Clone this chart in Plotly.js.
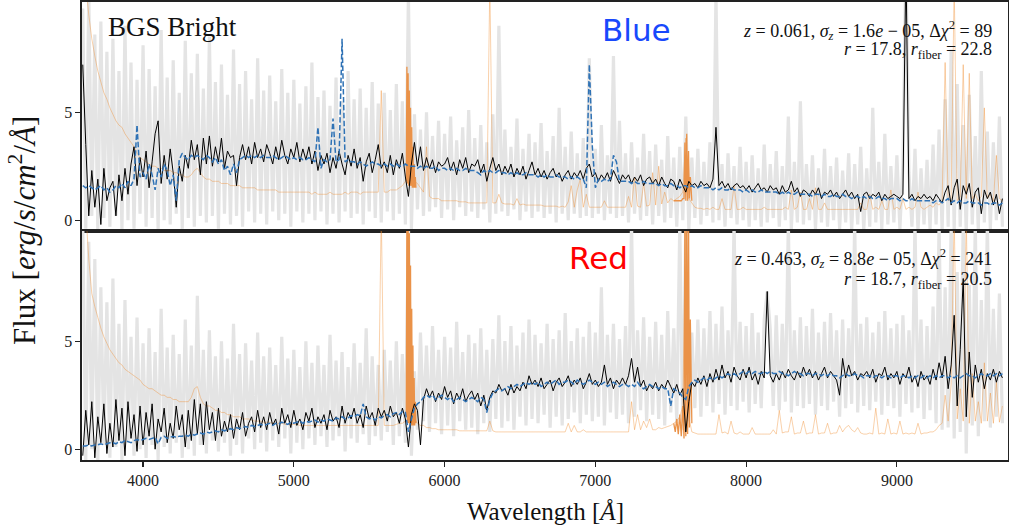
<!DOCTYPE html>
<html><head><meta charset="utf-8">
<script src="https://cdn.plot.ly/plotly-3.0.1.min.js"></script>
<style>html,body{margin:0;padding:0;background:#fff}#chart{width:1009px;height:531px}</style>
</head><body><div id="chart"></div>
<script>
// ---- wavelength grid (Angstrom) of the binned spectra ----
const WAVE_START = 3600;
const WAVE_STEP = 20;

// ---- TOP PANEL (z = 0.061) ----
const topGray = [
/*3600*/ 9.8,-0.4,10.5,0.2,8.6,-0.5,9.2,0.1,7.8,-0.3,
/*3800*/ 8.4,0.2,6.9,-0.5,9.0,0.0,7.3,-0.4,6.5,0.3,
/*4000*/ 8.1,-0.3,7.0,0.1,6.2,-0.5,8.8,0.0,6.6,-0.2,
/*4200*/ 7.4,0.3,5.9,-0.4,8.3,0.1,6.8,-0.3,7.7,0.2,
/*4400*/ 6.1,-0.1,8.5,0.2,6.4,-0.4,7.2,0.3,5.8,-0.2,
/*4600*/ 7.9,0.2,6.3,-0.3,6.9,0.4,5.6,-0.1,7.5,0.3,
/*4800*/ 6.0,-0.2,6.7,0.4,5.5,0.0,7.0,0.3,5.9,-0.3,
/*5000*/ 6.5,0.4,5.4,-0.1,6.2,0.3,7.3,0.0,5.7,0.4,
/*5200*/ 6.0,-0.2,5.3,0.3,6.6,-0.1,5.5,0.4,6.9,0.1,
/*5400*/ 5.6,0.3,6.1,-0.2,5.2,0.4,6.4,0.1,5.4,-0.1,
/*5600*/ 5.9,0.4,5.1,0.0,6.3,0.3,5.5,-0.2,10.5,-0.4,
/*5800*/ 4.9,0.5,4.2,0.2,5.0,0.4,3.9,0.6,4.6,0.1,
/*6000*/ 4.0,0.5,4.8,0.0,3.7,0.6,4.3,0.2,5.1,0.4,
/*6200*/ 3.8,0.1,4.4,0.5,3.6,-0.1,4.9,0.3,9.0,0.4,
/*6400*/ 4.2,0.2,3.4,0.5,4.7,0.0,3.3,0.4,4.0,0.1,
/*6600*/ 3.6,0.4,4.5,0.1,3.2,0.3,3.9,-0.1,5.2,0.3,
/*6800*/ 3.4,0.0,4.1,0.3,3.1,0.1,3.8,0.2,7.5,0.1,
/*7000*/ 3.3,0.3,4.4,0.0,3.0,0.3,7.6,0.1,4.6,0.2,
/*7200*/ 3.1,-0.1,3.6,0.3,2.9,0.0,4.0,0.2,3.2,-0.2,
/*7400*/ 3.5,0.2,2.8,-0.1,3.9,0.1,2.9,-0.3,3.4,0.0,
/*7600*/ 4.8,-0.4,2.9,0.1,3.3,-0.2,2.7,0.2,3.6,-0.1,
/*7800*/ 10.5,0.0,2.6,-0.3,3.1,0.1,2.5,-0.2,3.4,0.0,
/*8000*/ 2.7,-0.3,3.0,0.0,2.4,-0.3,3.5,-0.1,2.6,0.1,
/*8200*/ 3.2,-0.3,2.5,0.0,4.8,-0.4,2.7,-0.1,5.5,-0.2,
/*8400*/ 2.6,0.0,3.0,-0.4,2.4,-0.1,3.3,-0.3,2.5,0.0,
/*8600*/ 2.9,-0.4,2.3,-0.1,3.1,-0.5,2.6,-0.2,3.4,-0.5,
/*8800*/ 2.4,-0.3,5.2,-0.1,2.7,-0.4,4.0,-0.2,2.5,-0.1,
/*9000*/ 3.0,-0.4,2.6,12,2.2,-0.3,3.3,-0.5,2.4,-0.2,
/*9200*/ 2.8,-0.4,3.5,-0.2,4.2,-0.5,5.6,-0.3,7.9,-0.5,
/*9400*/ 6.3,-0.3,4.4,-0.6,5.8,-0.2,3.9,-0.5,6.9,-0.1,
/*9600*/ 4.1,-0.4,3.6,0.0,4.8,-0.3
];
const topNoise = [
/*3600*/ 13,11,9.5,8.4,7.6,6.9,6.4,5.9,5.6,5.2,
/*3800*/ 4.9,4.6,4.4,4.3,4.0,3.8,3.6,3.4,3.1,2.9,
/*4000*/ 2.8,2.7,2.6,2.5,2.5,2.4,2.4,2.3,2.3,2.3,
/*4200*/ 2.2,2.2,2.1,2.1,2.0,2.0,2.1,2.3,2.4,2.2,
/*4400*/ 2.0,1.9,1.9,1.8,1.8,1.8,1.7,1.7,1.7,1.6,
/*4600*/ 1.6,1.6,1.6,1.5,1.5,1.5,1.5,1.5,1.4,1.4,
/*4800*/ 1.4,1.4,1.4,1.4,1.4,1.3,1.3,1.3,1.3,1.3,
/*5000*/ 1.3,1.3,1.3,1.3,1.3,1.3,1.2,1.3,1.2,1.2,
/*5200*/ 1.2,1.2,1.3,1.2,1.2,1.2,1.2,1.3,1.2,1.3,
/*5400*/ 1.3,1.3,1.2,1.3,1.3,1.3,1.3,1.3,1.3,6.0,
/*5600*/ 1.3,1.3,1.4,1.4,1.4,1.5,1.6,1.8,1.7,1.6,
/*5800*/ 1.8,1.7,1.5,1.3,3.4,1.1,1.0,1.0,1.0,0.9,
/*6000*/ 0.9,0.9,0.9,0.9,0.9,0.85,0.85,0.85,0.8,0.8,
/*6200*/ 0.8,0.8,0.8,0.8,0.8,11,0.8,0.8,1.2,0.8,
/*6400*/ 0.75,0.75,0.75,0.7,1.0,0.7,0.75,0.7,0.7,0.7,
/*6600*/ 0.7,0.7,0.7,0.65,0.65,0.65,0.65,0.65,0.6,0.65,
/*6800*/ 0.6,0.85,1.6,0.6,1.4,1.9,0.6,1.2,0.6,0.6,
/*7000*/ 0.6,0.6,0.6,0.9,0.6,0.6,0.6,0.6,0.6,0.6,
/*7200*/ 0.6,1.1,0.6,2.0,0.65,0.6,1.7,0.65,0.7,2.2,
/*7400*/ 0.7,2.5,0.75,1.3,0.8,1.0,0.9,1.0,1.1,1.3,
/*7600*/ 3.8,1.0,0.8,0.6,0.55,0.55,0.5,0.55,0.5,0.6,
/*7800*/ 0.5,0.5,1.0,0.5,0.5,0.5,1.6,0.5,0.5,0.6,
/*8000*/ 0.5,0.5,0.5,0.5,0.5,0.5,0.6,0.5,0.5,0.5,
/*8200*/ 0.5,0.5,0.5,0.6,0.5,1.4,0.5,0.6,1.3,0.5,
/*8400*/ 0.5,1.0,0.5,1.5,0.5,0.5,0.8,0.5,0.5,0.5,
/*8600*/ 0.5,0.5,0.5,0.5,0.5,0.5,0.5,0.5,0.8,0.5,
/*8800*/ 0.5,1.2,0.5,0.6,0.5,0.9,0.5,0.5,1.4,0.5,
/*9000*/ 0.6,0.5,1.0,0.5,0.6,0.5,0.6,1.3,0.6,0.5,
/*9200*/ 0.6,0.7,0.6,0.8,0.7,0.9,7.3,0.9,1.0,11,
/*9400*/ 0.9,1.1,7.2,1.0,6.8,1.0,1.2,0.9,1.1,5.2,
/*9600*/ 1.0,1.2,0.9,3.0,1.0,0.9
];
const topFlux = [
/*3600*/ 7.2,3.5,0.2,2.3,0.6,1.9,-0.2,2.4,0.9,1.5,
/*3800*/ 1.8,0.2,2.1,0.9,2.4,1.2,2.6,3.4,1.6,2.9,
/*4000*/ 2.0,3.2,1.5,2.7,4.0,4.6,1.7,3.0,1.9,3.3,
/*4200*/ 2.2,0.6,2.5,1.8,3.0,2.4,3.7,2.8,3.5,2.1,
/*4400*/ 3.8,2.6,3.9,2.5,3.4,2.7,3.8,2.4,3.2,2.9,
/*4600*/ 3.0,1.6,2.9,3.5,2.8,3.4,2.6,3.6,2.9,3.3,
/*4800*/ 2.7,3.5,3.1,2.6,3.4,2.8,3.7,3.0,2.6,3.3,
/*5000*/ 2.9,3.6,2.7,3.3,2.8,3.4,2.6,3.2,2.3,3.0,
/*5200*/ 2.6,3.1,2.2,2.9,2.4,3.2,2.6,2.1,3.0,2.5,
/*5400*/ 3.3,2.4,2.9,1.8,2.7,3.1,2.2,2.8,3.5,2.4,
/*5600*/ 2.7,2.2,3.0,2.1,2.8,2.4,3.1,2.0,1.1,2.6,
/*5800*/ 3.6,2.5,3.4,2.3,2.9,2.4,2.8,2.2,2.7,2.5,
/*6000*/ 2.6,2.9,2.3,2.7,2.1,2.8,2.4,2.9,2.2,2.6,
/*6200*/ 2.5,2.8,2.2,2.6,1.8,2.4,2.9,2.3,2.6,2.1,
/*6400*/ 2.5,2.2,2.6,2.0,2.4,2.1,2.5,1.9,2.3,2.7,
/*6600*/ 2.1,2.4,2.0,2.3,1.9,2.2,2.4,2.0,2.2,1.8,
/*6800*/ 2.1,2.3,1.9,2.2,2.0,2.3,1.9,2.4,2.6,2.0,
/*7000*/ 2.2,1.8,2.1,1.9,2.2,1.8,2.3,2.0,1.7,2.1,
/*7200*/ 1.9,2.1,1.7,2.0,1.8,2.1,1.6,1.9,2.0,1.7,
/*7400*/ 1.9,1.6,2.0,1.7,1.5,1.9,1.8,1.4,1.9,1.6,
/*7600*/ 1.3,1.8,1.6,1.7,1.5,1.8,1.6,1.7,1.5,1.9,
/*7800*/ 4.3,1.6,1.8,1.5,1.7,1.4,1.6,1.7,1.5,1.6,
/*8000*/ 1.4,1.6,1.3,1.5,1.7,1.4,1.5,1.3,1.6,1.4,
/*8200*/ 1.5,1.2,1.6,1.3,1.4,1.8,1.3,1.5,1.1,1.4,
/*8400*/ 1.3,1.1,1.4,1.2,1.5,1.0,1.3,1.2,1.4,1.1,
/*8600*/ 1.3,1.0,1.2,1.4,1.1,1.3,1.0,1.2,0.4,1.2,
/*8800*/ 1.3,1.0,1.2,1.1,1.3,0.9,1.2,1.0,1.1,1.2,
/*9000*/ 1.1,1.0,1.2,12.0,1.0,1.2,0.9,1.1,1.0,1.2,
/*9200*/ 1.0,1.1,0.9,1.2,1.0,0.8,1.3,1.6,0.7,1.5,
/*9400*/ 1.9,0.5,1.6,1.2,1.7,0.6,1.3,1.5,0.3,1.4,
/*9600*/ 1.0,1.3,0.7,1.2,0.3,1.0
];
const topModel = [
/*3600*/ 1.6,1.5,1.6,1.5,1.4,1.5,1.6,1.4,1.5,1.3,
/*3800*/ 1.4,1.6,1.5,1.7,1.5,1.8,1.6,1.9,4.4,2.0,
/*4000*/ 2.2,1.9,2.6,2.1,1.4,2.4,2.0,2.6,2.3,1.6,
/*4200*/ 2.1,0.9,2.8,3.1,2.9,2.8,3.0,2.9,3.0,2.9,
/*4400*/ 2.8,3.0,2.9,2.7,2.9,2.6,2.8,2.3,2.5,2.1,
/*4600*/ 2.6,2.2,2.8,2.9,3.0,2.9,3.0,2.9,3.0,2.9,
/*4800*/ 3.0,2.9,2.9,3.0,2.9,2.8,2.9,3.0,2.9,2.8,
/*5000*/ 2.9,2.8,2.9,2.8,2.8,2.9,2.8,2.7,4.3,2.4,
/*5200*/ 2.8,2.7,2.8,4.7,2.7,2.8,8.4,2.7,2.8,2.7,
/*5400*/ 2.7,2.6,2.7,2.6,2.5,2.6,2.7,2.6,2.6,2.5,
/*5600*/ 2.6,2.5,2.6,2.5,2.6,2.5,2.5,2.6,2.5,2.5,
/*5800*/ 2.5,2.4,2.5,2.4,2.5,2.4,2.4,2.5,2.3,2.4,
/*6000*/ 2.4,2.3,2.4,2.3,2.4,2.3,2.3,2.4,2.3,2.3,
/*6200*/ 2.3,2.2,2.1,2.3,2.2,2.3,2.2,2.2,2.3,2.2,
/*6400*/ 2.2,2.1,2.2,2.1,2.2,2.1,2.1,2.2,2.1,2.1,
/*6600*/ 2.1,2.0,2.1,2.0,2.1,2.0,2.0,2.1,2.0,2.0,
/*6800*/ 2.0,1.9,2.0,1.9,2.0,1.9,1.9,1.5,7.2,3.4,
/*7000*/ 1.5,1.9,1.8,1.9,1.8,1.9,3.0,2.7,1.8,1.8,
/*7200*/ 1.8,1.8,1.7,1.8,1.7,1.7,1.8,1.7,1.7,1.7,
/*7400*/ 1.7,1.6,1.7,1.6,1.6,1.7,1.6,1.6,1.5,1.6,
/*7600*/ 1.6,1.5,1.6,1.5,1.5,1.6,1.5,1.5,1.5,1.4,
/*7800*/ 1.5,1.4,1.5,1.4,1.4,1.5,1.4,1.4,1.4,1.3,
/*8000*/ 1.4,1.3,1.4,1.3,1.3,1.4,1.3,1.3,1.3,1.3,
/*8200*/ 1.3,1.2,1.3,1.2,1.3,1.2,1.2,1.3,1.2,1.2,
/*8400*/ 1.2,1.2,1.1,1.2,1.2,1.1,1.2,1.1,1.1,1.2,
/*8600*/ 1.1,1.1,1.2,1.1,1.1,1.0,1.1,1.1,1.0,1.1,
/*8800*/ 1.0,1.1,1.0,1.0,1.1,1.0,1.0,0.9,1.0,1.0,
/*9000*/ 1.0,0.9,1.0,0.9,0.9,1.0,0.9,0.9,0.9,0.9,
/*9200*/ 0.9,0.9,0.8,0.9,0.9,0.8,0.9,1.0,0.8,0.9,
/*9400*/ 0.8,0.9,0.8,0.8,0.9,0.8,0.8,0.8,0.7,0.8,
/*9600*/ 0.8,0.7,0.8,0.8,0.7,0.8
];

// ---- BOTTOM PANEL (z = 0.463) ----
const botGray = [
/*3600*/ 10.5,-0.5,9.6,0.0,8.8,-0.6,7.5,0.2,6.8,-0.4,
/*3800*/ 7.9,0.1,5.8,-0.5,6.9,0.3,5.2,-0.3,6.1,0.0,
/*4000*/ 4.9,-0.4,5.6,0.2,4.5,-0.5,6.5,0.1,4.7,-0.2,
/*4200*/ 5.3,0.3,4.4,-0.4,6.0,0.0,4.8,-0.3,7.1,0.2,
/*4400*/ 4.6,-0.2,5.5,0.4,4.3,-0.1,5.0,0.3,4.2,-0.3,
/*4600*/ 5.8,0.2,4.4,-0.2,4.9,0.5,4.1,0.0,5.4,0.3,
/*4800*/ 4.3,-0.1,4.7,0.4,3.9,0.1,5.2,0.5,4.2,-0.2,
/*5000*/ 4.6,0.3,3.8,0.0,5.0,0.5,4.0,0.2,4.8,0.6,
/*5200*/ 3.9,0.1,5.3,0.4,4.1,0.6,4.5,-0.1,3.8,0.5,
/*5400*/ 4.9,0.3,4.0,0.7,5.6,0.2,4.3,0.6,3.9,0.4,
/*5600*/ 4.6,0.8,4.1,0.2,5.0,0.6,4.4,0.3,10.5,-0.3,
/*5800*/ 3.6,0.9,5.4,1.3,4.8,0.8,5.7,1.2,4.6,0.7,
/*6000*/ 5.2,1.1,4.7,0.6,5.9,1.3,4.5,0.9,5.3,1.0,
/*6200*/ 4.9,0.7,5.6,1.2,4.6,0.8,5.1,1.4,6.2,1.0,
/*6400*/ 5.0,1.3,5.7,0.9,4.8,1.5,5.4,1.1,6.0,1.4,
/*6600*/ 5.3,1.2,4.9,1.6,5.8,1.0,5.1,1.5,5.5,1.1,
/*6800*/ 6.3,1.4,5.0,1.7,5.6,1.2,5.2,1.6,5.9,1.3,
/*7000*/ 5.4,1.5,7.5,1.1,5.3,1.7,5.8,1.4,5.1,1.6,
/*7200*/ 5.7,1.2,10.5,1.5,5.5,1.8,6.1,1.3,5.2,1.6,
/*7400*/ 5.9,1.4,5.3,1.1,6.4,1.7,5.6,1.2,10.5,0.9,
/*7600*/ 10.5,1.3,5.4,1.9,6.0,1.5,5.6,2.0,6.4,1.7,
/*7800*/ 5.8,2.1,6.6,1.6,5.5,2.0,10.5,1.8,5.9,2.2,
/*8000*/ 5.7,1.7,6.3,2.1,5.4,1.9,6.0,7.3,5.6,2.0,
/*8200*/ 6.2,1.8,5.8,2.2,10.5,1.7,5.5,2.0,6.1,1.9,
/*8400*/ 5.7,2.1,6.5,1.6,5.4,2.0,5.9,1.8,6.3,2.2,
/*8600*/ 5.5,1.5,6.0,1.9,5.6,2.1,10.5,1.7,5.8,2.0,
/*8800*/ 6.1,1.8,5.4,2.2,5.9,1.6,6.4,2.0,5.6,1.9,
/*9000*/ 5.8,1.5,6.2,2.1,5.5,1.7,10.5,1.9,6.0,1.4,
/*9200*/ 5.7,1.8,6.6,1.2,10.5,0.9,7.5,1.0,10.5,0.5,
/*9400*/ 8.2,0.8,10.5,-0.2,7.6,1.1,10.5,0.6,6.9,1.3,
/*9600*/ 10.5,1.0,6.5,1.5,7.2,1.2
];
const botNoise = [
/*3600*/ 13,11,8.8,7.2,6.6,6.1,5.6,5.2,4.9,4.6,
/*3800*/ 4.4,4.2,4.0,3.9,3.7,3.6,3.5,3.4,3.3,3.2,
/*4000*/ 3.0,2.9,2.8,2.8,2.7,2.6,2.5,2.5,2.4,2.4,
/*4200*/ 2.3,2.3,2.2,2.2,2.2,2.2,2.4,2.8,2.9,2.4,
/*4400*/ 2.1,2.0,2.0,1.9,1.8,1.8,1.7,1.7,1.6,1.6,
/*4600*/ 1.5,1.5,1.5,1.4,1.4,1.4,1.35,1.3,1.3,1.3,
/*4800*/ 1.25,1.25,1.25,1.2,1.2,1.2,1.2,1.15,1.15,1.15,
/*5000*/ 1.15,1.15,1.1,1.1,1.1,1.1,1.1,1.1,1.1,1.1,
/*5200*/ 1.1,1.1,1.1,1.1,1.1,1.1,1.1,1.1,1.1,1.1,
/*5400*/ 1.1,1.1,1.1,1.1,1.1,1.1,1.1,1.1,1.1,11,
/*5600*/ 1.1,1.1,1.1,1.1,1.15,1.2,1.2,1.3,1.4,1.5,
/*5800*/ 1.4,1.2,1.1,1.1,1.0,1.0,0.95,0.95,0.9,0.9,
/*6000*/ 0.9,0.9,0.9,0.9,0.9,0.85,0.85,0.85,0.85,0.85,
/*6200*/ 0.85,0.85,0.85,0.85,0.85,1.3,0.85,0.8,0.8,0.8,
/*6400*/ 0.8,0.8,0.8,0.8,0.8,0.8,0.8,0.8,0.8,0.8,
/*6600*/ 0.8,0.8,0.8,0.8,0.8,0.8,0.8,0.8,0.8,0.8,
/*6800*/ 0.8,1.2,0.8,1.1,0.8,0.8,0.9,0.8,0.8,0.8,
/*7000*/ 0.8,0.8,0.8,0.8,0.8,0.8,0.8,0.8,0.8,0.8,
/*7200*/ 0.8,0.8,2.2,0.9,1.6,0.9,1.3,1.0,1.4,0.9,
/*7400*/ 0.9,1.0,0.95,1.0,1.05,1.1,1.2,1.3,1.5,2.0,
/*7600*/ 11,1.5,0.8,0.75,0.7,0.7,0.7,0.7,0.7,0.7,
/*7800*/ 0.7,1.6,0.75,0.8,0.7,1.3,0.75,0.7,0.8,0.7,
/*8000*/ 0.7,0.7,1.0,0.7,0.7,0.7,0.7,0.7,0.7,0.9,
/*8200*/ 0.7,1.8,0.75,0.8,0.8,1.5,0.7,0.75,0.75,1.3,
/*8400*/ 0.7,0.75,0.75,1.6,0.7,0.75,0.75,1.2,0.7,0.75,
/*8600*/ 0.75,1.1,0.8,1.0,1.1,0.9,0.8,1.0,0.75,0.7,
/*8800*/ 0.7,0.75,0.7,1.9,0.7,0.75,0.7,1.4,0.7,0.75,
/*9000*/ 0.7,1.3,0.7,0.75,0.7,0.75,0.7,1.2,0.7,0.75,
/*9200*/ 0.75,0.8,0.8,0.9,1.1,1.2,2.5,1.3,3.0,11,
/*9400*/ 1.4,2.8,1.3,11,1.2,3.5,1.3,2.2,1.2,4.0,
/*9600*/ 1.3,2.6,1.2,3.1,1.25,2.0
];
const botFlux = [
/*3600*/ -0.3,1.8,0.2,2.2,-0.4,1.5,0.3,2.1,-0.2,1.2,
/*3800*/ 0.1,2.3,0.4,1.9,-0.3,2.2,0.5,1.6,-0.1,2.0,
/*4000*/ 0.2,1.7,0.6,2.1,0.0,1.4,0.8,1.9,0.3,1.2,
/*4200*/ 0.5,2.0,0.9,1.6,0.1,1.8,0.4,2.3,0.7,2.1,
/*4400*/ 0.2,2.2,0.9,1.7,0.4,1.9,0.6,1.3,0.8,1.6,
/*4600*/ 0.5,1.4,0.9,1.7,0.6,1.2,1.5,0.8,1.8,1.0,
/*4800*/ 1.5,0.9,1.7,1.1,1.4,0.7,1.9,1.2,1.6,1.0,
/*5000*/ 1.8,1.1,1.4,0.9,1.7,1.3,1.9,1.0,1.5,1.2,
/*5200*/ 1.6,0.9,1.8,1.3,1.5,1.0,2.0,1.2,1.7,1.4,
/*5400*/ 1.9,1.2,1.6,1.0,2.0,1.4,1.7,1.1,1.9,1.5,
/*5600*/ 1.8,1.3,2.0,1.5,1.7,1.2,1.9,1.4,0.1,1.6,
/*5800*/ 2.1,1.8,0.2,2.3,2.8,2.4,2.7,2.2,2.6,2.3,
/*6000*/ 2.9,2.4,2.7,2.1,2.6,2.3,2.8,2.2,2.5,2.7,
/*6200*/ 2.3,2.6,2.0,2.5,1.8,2.4,2.7,2.6,3.0,2.7,
/*6400*/ 2.8,2.5,3.0,2.6,2.9,2.7,3.1,2.8,3.4,3.0,
/*6600*/ 3.2,2.9,3.3,2.8,3.0,3.2,2.7,3.1,3.3,2.9,
/*6800*/ 3.1,3.4,2.9,3.2,3.0,3.3,2.8,3.1,3.5,3.0,
/*7000*/ 3.2,2.9,3.1,3.9,3.0,3.3,2.8,3.2,3.0,3.3,
/*7200*/ 3.0,3.4,4.2,3.1,3.8,2.9,3.2,2.7,3.0,2.8,
/*7400*/ 3.1,2.7,3.0,2.8,3.2,2.9,2.6,3.0,2.5,2.8,
/*7600*/ 0.8,2.2,3.1,2.9,3.3,3.0,3.4,2.9,3.5,3.1,
/*7800*/ 3.7,3.2,3.9,3.3,3.6,3.1,3.8,3.4,3.2,3.7,
/*8000*/ 3.3,3.8,3.2,3.5,3.0,3.6,3.3,7.3,3.4,3.1,
/*8200*/ 3.5,3.2,3.6,3.3,3.7,3.4,3.2,3.6,3.3,3.8,
/*8400*/ 3.4,3.7,3.3,3.6,3.2,3.5,3.8,3.3,3.6,3.4,
/*8600*/ 3.2,2.5,4.2,3.3,3.9,3.4,3.6,3.2,3.5,3.4,
/*8800*/ 3.6,3.3,3.7,3.1,3.5,3.4,3.8,3.2,3.5,3.3,
/*9000*/ 3.6,3.0,3.5,3.3,3.8,3.1,3.4,2.9,3.6,3.2,
/*9200*/ 3.4,3.0,3.7,3.2,4.0,3.3,4.3,2.8,3.9,6.2,
/*9400*/ 2.0,4.6,7.9,1.5,4.5,2.4,3.9,3.1,3.7,2.8,
/*9600*/ 3.5,3.2,3.7,3.1,3.6,3.3
];
const botModel = [
/*3600*/ 0.15,0.15,0.2,0.15,0.2,0.2,0.25,0.2,0.25,0.3,
/*3800*/ 0.3,0.25,0.35,0.3,0.4,0.35,0.3,0.4,0.45,0.4,
/*4000*/ 0.45,0.5,0.45,0.5,0.55,0.25,0.55,0.6,0.5,0.55,
/*4200*/ 0.6,0.55,0.6,0.6,0.65,0.6,0.7,0.65,0.7,0.75,
/*4400*/ 0.7,0.8,0.75,0.8,0.85,0.8,0.9,0.85,0.9,0.95,
/*4600*/ 0.9,1.0,0.95,1.0,1.05,1.0,1.1,1.05,1.1,1.15,
/*4800*/ 1.1,1.15,1.2,1.1,1.2,1.15,1.25,1.2,1.15,1.25,
/*5000*/ 1.2,1.25,1.3,1.2,1.3,1.25,1.3,1.35,1.25,1.35,
/*5200*/ 1.3,1.4,1.35,1.3,1.45,1.4,1.5,1.4,1.45,1.55,
/*5400*/ 1.5,1.6,1.55,2.1,1.5,1.4,1.45,1.35,1.5,1.45,
/*5600*/ 1.55,1.6,1.5,1.65,1.7,1.6,1.75,1.7,0.8,1.4,
/*5800*/ 1.9,2.1,2.2,2.4,2.5,2.4,2.5,2.3,2.4,2.5,
/*6000*/ 2.4,2.3,2.4,2.2,2.3,2.4,2.3,2.2,2.3,2.4,
/*6200*/ 2.3,2.2,2.4,2.3,1.7,2.3,2.6,2.7,2.8,2.7,
/*6400*/ 2.8,2.9,2.8,2.9,3.0,2.9,3.0,3.1,3.0,3.1,
/*6600*/ 3.0,3.1,2.9,3.0,3.1,3.0,3.1,3.2,3.0,3.1,
/*6800*/ 3.1,3.2,3.1,3.0,3.2,3.1,3.0,3.1,3.2,3.1,
/*7000*/ 3.0,3.1,3.0,3.1,2.9,3.0,3.1,3.0,2.9,3.0,
/*7200*/ 3.0,2.9,3.0,2.9,3.1,2.9,2.8,2.9,3.0,2.9,
/*7400*/ 2.9,2.8,2.9,2.8,2.8,2.0,2.8,2.7,2.6,2.4,
/*7600*/ 2.3,2.9,3.1,3.2,3.1,3.2,3.3,3.2,3.3,3.2,
/*7800*/ 3.3,3.4,3.3,3.4,3.5,3.4,3.5,3.4,3.5,3.6,
/*8000*/ 3.5,3.6,3.5,3.6,3.5,3.5,3.6,3.5,3.6,3.5,
/*8200*/ 3.5,3.6,3.5,3.5,3.4,3.5,3.6,3.5,3.5,3.4,
/*8400*/ 3.5,3.5,3.4,3.5,3.5,3.4,3.5,3.4,3.5,3.4,
/*8600*/ 3.4,3.3,3.4,3.5,3.4,3.4,3.5,3.4,3.4,3.3,
/*8800*/ 3.4,3.4,3.3,3.4,3.4,3.3,3.4,3.4,3.3,3.4,
/*9000*/ 3.4,3.3,3.4,3.4,3.3,3.4,3.3,3.4,3.3,3.4,
/*9200*/ 3.3,3.4,3.3,3.4,3.3,3.4,3.4,3.3,3.4,3.3,
/*9400*/ 3.4,3.3,3.4,3.5,3.4,3.4,3.3,3.4,3.5,3.4,
/*9600*/ 3.4,3.5,3.4,3.5,3.4,3.5
];

// ---- densely sampled noise at the dichroic and the telluric A-band ----
const dichroicWave = [5746,5750,5754,5758,5762,5766,5770,5774,5778,5782,5786,5790,5794,5798,5802,5806,5810];
const topDichroic = [1.8,7.1,1.7,6.8,1.6,6.0,1.6,5.2,1.6,4.3,1.5,3.4,1.5,2.6,1.5,2.0,1.5];
const botDichroic = [1.5,11,1.2,11,1.2,10,1.1,8.5,1.1,6.5,1.1,4.8,1.1,3.3,1.1,2.2,1.2];
const aBandWave = [7520,7530,7540,7550,7560,7570,7580,7588,7594,7600,7606,7612,7618,7624,7630,7640];
const topABand = [0.9,0.9,0.9,0.9,0.9,0.9,1.0,1.0,3.6,0.9,4.0,0.9,3.2,1.0,2.0,0.9];
const botABand = [1.2,0.8,1.4,0.7,1.6,0.6,2.0,0.5,11,0.6,11,0.7,11,1.0,6,1.2];

// ---- labels ----
const xTicks = [4000,5000,6000,7000,8000,9000];
const yTicks = [0,5];
const surveyLabel = 'BGS Bright';
const panelNames = ['Blue','Red'];
const panelColors = ['rgb(24,72,252)','rgb(255,0,0)'];
const fitLines = [
  ['<i>z</i> = 0.061, <i>σ<sub>z</sub></i> = 1.6<i>e</i> − 05, Δ<i>χ</i><sup>2</sup> = 89',
   '<i>r</i> = 17.8, <i>r</i><sub>fiber</sub> = 22.8'],
  ['<i>z</i> = 0.463, <i>σ<sub>z</sub></i> = 8.8<i>e</i> − 05, Δ<i>χ</i><sup>2</sup> = 241',
   '<i>r</i> = 18.7, <i>r</i><sub>fiber</sub> = 20.5']
];

const SERIF = 'Liberation Serif, DejaVu Serif, serif';
const SANS = 'DejaVu Sans, sans-serif';

function gridTrace(y, xa, ya, color, width, dash) {
  return {type:'scatter', mode:'lines', x0:WAVE_START, dx:WAVE_STEP, y:y, xaxis:xa, yaxis:ya,
    line:{color:color, width:width, dash:dash||'solid', simplify:false}, hoverinfo:'skip'};
}
function xyTrace(x, y, xa, ya, color, width) {
  return {type:'scatter', mode:'lines', x:x, y:y, xaxis:xa, yaxis:ya,
    line:{color:color, width:width, simplify:false}, hoverinfo:'skip'};
}
const GRAY = '#e4e4e4', NOISE = 'rgba(240,140,45,0.40)', DENSE = 'rgb(234,146,72)',
      FLUX = '#000000', MODEL = '#2f72b5';
const modelDash = '5.5px,2.4px';

const traces = [];
[['x','y',topGray,topNoise,topDichroic,topABand,topFlux,topModel],
 ['x2','y2',botGray,botNoise,botDichroic,botABand,botFlux,botModel]].forEach(p => {
  const [xa,ya,g,n,d,a,f,m] = p;
  traces.push(gridTrace(g, xa, ya, GRAY, 3.2));
  traces.push(gridTrace(n, xa, ya, NOISE, 1.0));
  traces.push(xyTrace(dichroicWave, d, xa, ya, DENSE, 1.3));
  traces.push(xyTrace(aBandWave, a, xa, ya, DENSE, 1.3));
  traces.push(gridTrace(f, xa, ya, FLUX, 1.0));
  traces.push(gridTrace(m, xa, ya, MODEL, 1.5, modelDash));
});

const frame = {showline:true, mirror:true, linecolor:'#222', linewidth:1.6, showgrid:false, zeroline:false};
const tickFont = {family:SERIF, size:16, color:'#222'};
const yAx = dom => Object.assign({}, frame, {domain:dom, range:[-0.5,10.1], tickvals:yTicks,
  ticks:'outside', ticklen:5, tickwidth:1.2, tickcolor:'#222', tickfont:tickFont, fixedrange:true});

// plot area in pixels: x 82..1008, y 2..460
const px = v => (v-82)/926, py = v => (460-v)/458;
const ann = (text, x, y, xanchor, font, extra) => Object.assign({text:text, xref:'paper', yref:'paper',
  x:x, y:y, xanchor:xanchor, yanchor:'middle', showarrow:false, font:font}, extra||{});

const annotations = [
  ann(surveyLabel, px(106), py(27), 'left', {family:SERIF, size:27, color:'#111'}),
  ann(panelNames[0], px(636), py(30), 'center', {family:SANS, size:31, color:panelColors[0]}),
  ann(panelNames[1], px(598), py(258), 'center', {family:SANS, size:31, color:panelColors[1]}),
  ann(fitLines[0][0], px(994), py(31), 'right', {family:SERIF, size:18, color:'#111'}),
  ann(fitLines[0][1], px(994), py(51), 'right', {family:SERIF, size:18, color:'#111'}),
  ann(fitLines[1][0], px(994), py(259), 'right', {family:SERIF, size:18, color:'#111'}),
  ann(fitLines[1][1], px(994), py(280), 'right', {family:SERIF, size:18, color:'#111'}),
  ann('Flux [<i>erg</i>/<i>s</i>/<i>cm</i><sup>2</sup>/<i>Å</i>]', px(22), py(231), 'center',
      {family:SERIF, size:31, color:'#111'}, {textangle:-90}),
  ann('Wavelength [<i>Å</i>]', px(545), py(511), 'center', {family:SERIF, size:25, color:'#111'})
];

const layout = {
  width:1009, height:531, margin:{l:82, r:1, t:2, b:71},
  paper_bgcolor:'#ffffff', plot_bgcolor:'#ffffff', showlegend:false,
  xaxis: Object.assign({}, frame, {domain:[0,1], anchor:'y', range:[3595,9737], ticks:'', showticklabels:false}),
  xaxis2: Object.assign({}, frame, {domain:[0,1], anchor:'y2', matches:'x', range:[3595,9737], tickvals:xTicks,
     ticks:'outside', ticklen:5, tickwidth:1.2, tickcolor:'#222', tickfont:tickFont}),
  yaxis: yAx([0.5,1]),
  yaxis2: yAx([0,0.5]),
  annotations: annotations
};

Plotly.newPlot('chart', traces, layout, {staticPlot:true, displayModeBar:false});
</script>
</body></html>
